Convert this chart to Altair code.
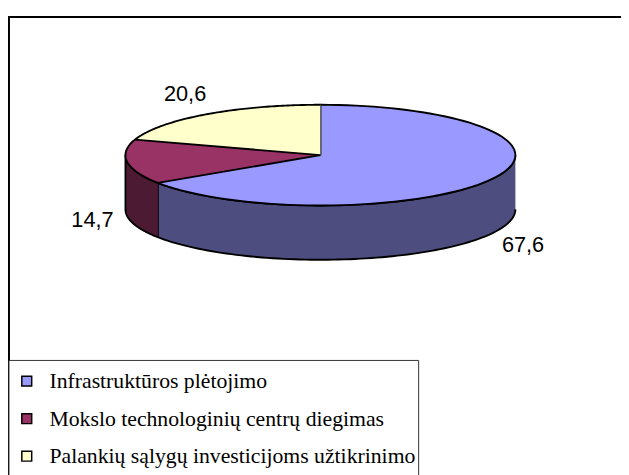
import altair as alt
import pandas as pd

# ---- data ----
categories = [
    "Infrastruktūros plėtojimo",
    "Mokslo technologinių centrų diegimas",
    "Palankių sąlygų investicijoms užtikrinimo",
]
values = [67.6, 14.7, 20.6]
value_labels = ["67,6", "14,7", "20,6"]
top_colors = ["#9999FF", "#993366", "#FFFFCC"]
side_colors = ["#4D4D80", "#4D1A33", "#808066"]

SERIF = "'Liberation Serif', 'Times New Roman', 'DejaVu Serif', serif"

# ---- layout (chart pixels) ----
W, H = 621, 467
CX, CY = 316.5, 146.0      # pie centre
RX, RY = 197.5, 51.0       # ellipse radii
DEPTH = 55.0 / RY          # pie thickness in y-units
N = 90                     # arc resolution

x_dom = [-CX / RX, (W - CX) / RX]
y_dom = [(CY - H) / RY, CY / RY]
xs = alt.Scale(domain=x_dom, nice=False, zero=False)
ys = alt.Scale(domain=y_dom, nice=False, zero=False)

df = pd.DataFrame({
    "cat": categories,
    "value": values,
    "label": value_labels,
    "side": side_colors,
    "idx": list(range(len(categories))),
})

base = (
    alt.Chart(df)
    .transform_joinaggregate(total="sum(value)")
    .transform_window(cum="sum(value)", sort=[alt.SortField("idx")], frame=[None, 0])
    .transform_calculate(
        a0="2*PI*(datum.cum - datum.value)/datum.total",
        a1="2*PI*datum.cum/datum.total",
    )
)

X = lambda f: alt.X(f, type="quantitative", scale=xs, axis=None)
Y = lambda f: alt.Y(f, type="quantitative", scale=ys, axis=None)

# side walls (front half only)
side = (
    base.transform_calculate(s="max(datum.a0, PI/2)", e="min(datum.a1, 3*PI/2)")
    .transform_filter("datum.s < datum.e")
    .transform_calculate(steps=f"sequence(0, {2 * N + 2})")
    .transform_flatten(["steps"], as_=["step"])
    .transform_calculate(
        ang=f"datum.step <= {N} ? datum.s + datum.step/{N}*(datum.e-datum.s) : datum.e - (datum.step-{N + 1})/{N}*(datum.e-datum.s)",
        px="sin(datum.ang)",
        py=f"datum.step <= {N} ? cos(datum.ang) : cos(datum.ang) - {DEPTH}",
    )
    .mark_line(filled=True, stroke="black", strokeWidth=1.9, strokeJoin="round")
    .encode(
        x=X("px"), y=Y("py"),
        color=alt.Color("side:N", scale=None),
        order=alt.Order("step:Q"),
        detail="cat:N",
    )
)

# top faces
top = (
    base.transform_calculate(steps=f"sequence(0, {N + 2})")
    .transform_flatten(["steps"], as_=["step"])
    .transform_calculate(
        ang=f"datum.a0 + (datum.step-1)/{N}*(datum.a1-datum.a0)",
        px="datum.step == 0 ? 0 : sin(datum.ang)",
        py="datum.step == 0 ? 0 : cos(datum.ang)",
    )
    .mark_line(filled=True, stroke="black", strokeWidth=1.9, strokeJoin="round")
    .encode(
        x=X("px"), y=Y("py"),
        color=alt.Color(
            "cat:N",
            scale=alt.Scale(domain=categories, range=top_colors),
            legend=alt.Legend(
                orient="none", legendX=8, legendY=364, title=None,
                symbolType="square", symbolSize=100,
                symbolStrokeColor="black", symbolStrokeWidth=1.5,
                labelFont=SERIF, labelFontSize=22, labelColor="black",
                labelLimit=600, labelOffset=12, rowPadding=16, padding=0,
            ),
        ),
        order=alt.Order("step:Q"),
    )
)

labels = (
    base.transform_calculate(mid="(datum.a0+datum.a1)/2")
    .transform_calculate(
        lx="1.18*sin(datum.mid)",
        ly=f"1.5*cos(datum.mid) - (cos(datum.mid) < 0 ? {DEPTH} : 0)",
    )
    .mark_text(font="'Liberation Sans', Arial, sans-serif", fontSize=22, color="black",
               align="center", baseline="middle")
    .encode(x=X("lx"), y=Y("ly"), text="label:N")
)

frame = alt.Chart(alt.Data(values=[{}])).mark_rect(
    fill="white", stroke="black", strokeWidth=2
).encode(x=alt.value(1), y=alt.value(6), x2=alt.value(900), y2=alt.value(900))

legend_box = alt.Chart(alt.Data(values=[{}])).mark_rect(
    fill="white", stroke="#333333", strokeWidth=1
).encode(x=alt.value(1), y=alt.value(354), x2=alt.value(416), y2=alt.value(900))

chart = (
    alt.layer(frame, legend_box, side, top, labels)
    .resolve_scale(color="independent")
    .properties(width=W, height=H, padding=0, autosize=alt.AutoSizeParams(type="none"))
    .configure_view(stroke=None)
    .configure_legend(
        labelFont=SERIF, labelFontSize=22, labelColor="black",
        labelLimit=600, labelOffset=12, rowPadding=16,
        symbolType="square", symbolSize=100,
        symbolStrokeColor="black", symbolStrokeWidth=1.5,
    )
)

chart.save("out.html", embed_options={"renderer": "svg", "actions": False})
